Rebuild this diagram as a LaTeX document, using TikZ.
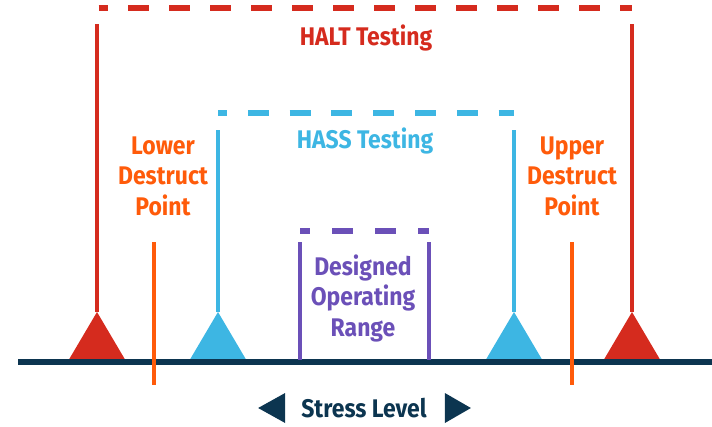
\documentclass[tikz,border=0pt]{standalone}
\usepackage{fontspec}
\setmainfont{Fira Sans}[FakeStretch=0.9]
\usetikzlibrary{calc,positioning}

\definecolor{haltred}{HTML}{D52B1E}
\definecolor{destructorange}{HTML}{FF5B0A}
\definecolor{hassblue}{HTML}{3DB6E3}
\definecolor{opviolet}{HTML}{6B50B8}
\definecolor{axisnavy}{HTML}{0C3550}

\begin{document}
\begin{tikzpicture}[
  x=1pt, y=-1pt,
  txt/.style={font=\bfseries\fontsize{25.5}{30.5}\selectfont, align=center, inner sep=0pt},
  post/.style={line width=4pt},
  limit/.style={line width=5.5pt},
  marker/.style={fill=#1}
]
\useasboundingbox (0,0) rectangle (712,426);

% Limits on the axis
\coordinate (haltL) at (97,312);
\coordinate (haltR) at (632,312);
\coordinate (hassL) at (218,312);
\coordinate (hassR) at (514,312);

% Triangles
\foreach \m/\c in {haltL/haltred, haltR/haltred, hassL/hassblue, hassR/hassblue}
  \fill[marker=\c] (\m) -- ++(-29.5,50) -- ++(59,0) -- cycle;

% Axis
\coordinate (axisL) at (18,362);
\coordinate (axisR) at (712,362);
\draw[axisnavy, limit] (axisL) -- (axisR);

% HALT Testing
\coordinate (haltTL) at (97,24);
\coordinate (haltTR) at (632,24);
\draw[haltred, post] (haltTL) -- (haltL);
\draw[haltred, post] (haltTR) -- (haltR);
\draw[haltred, limit, dash pattern=on 20.5pt off 20.5pt, dash phase=11.5pt] (98.5,8) -- (632,8);
\node[txt, text=haltred] (halt) at (366,38) {HALT Testing};

% HASS Testing
\coordinate (hassTL) at (218,130);
\coordinate (hassTR) at (514,130);
\draw[hassblue, post] (hassTL) -- (hassL);
\draw[hassblue, post] (hassTR) -- (hassR);
\draw[hassblue, limit, dash pattern=on 21pt off 20.8pt, dash phase=12pt] (218,113) -- (514,113);
\node[txt, text=hassblue] (hass) at (365,141) {HASS Testing};

% Destruct points
\coordinate (lowT) at (154,242);
\coordinate (lowB) at (154,385);
\coordinate (upT) at (572,242);
\coordinate (upB) at (572,385);
\draw[destructorange, post] (lowT) -- (lowB);
\draw[destructorange, post] (upT) -- (upB);
\node[txt, text=destructorange] (lower) at (163,176) {Lower\\Destruct\\Point};
\node[txt, text=destructorange] (upper) at (572,176) {Upper\\Destruct\\Point};

% Designed operating range
\coordinate (opTL) at (300,242);
\coordinate (opTR) at (429,242);
\coordinate (opBL) at (300,360);
\coordinate (opBR) at (429,360);
\draw[opviolet, post] (opTL) -- (opBL);
\draw[opviolet, post] (opTR) -- (opBR);
\draw[opviolet, limit, dash pattern=on 21pt off 22pt, dash phase=11pt] (300,231) -- (429,231);
\node[txt, text=opviolet] (oper) at (363,298) {Designed\\Operating\\Range};

% Stress level
\node[txt, text=axisnavy] (stress) at (364,408) {Stress Level};
\fill[axisnavy] ($(stress.west)+(-16,-15)$) -- ++(0,30) -- ++(-27,-15) -- cycle;
\fill[axisnavy] ($(stress.east)+(18,-15)$) -- ++(0,30) -- ++(26,-15) -- cycle;

\end{tikzpicture}
\end{document}
